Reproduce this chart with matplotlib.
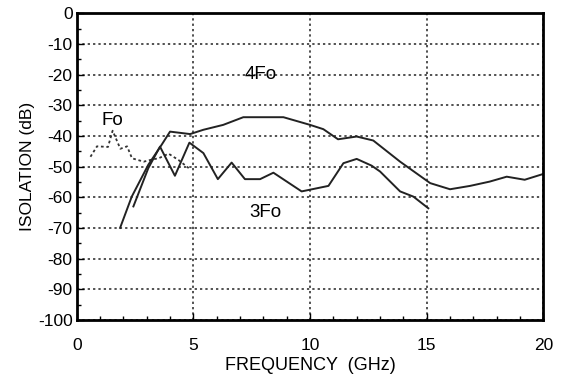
import matplotlib.pyplot as plt
from matplotlib.ticker import MultipleLocator

plt.rcParams['font.family'] = ['Liberation Sans', 'DejaVu Sans']
plt.rcParams['axes.unicode_minus'] = False

# Fo (dotted)
fo_x = [0.59, 0.87, 1.34, 1.54, 1.87, 2.16, 2.37, 2.87, 3.23, 3.51, 3.94, 4.37, 4.8]
fo_y = [-46.8, -43.4, -43.6, -38.3, -44.2, -43.4, -47.3, -48.4, -47.7, -47.3, -45.8, -47.9, -50.5]

# 4Fo (upper solid)
f4_x = [1.86, 2.36, 3.07, 3.64, 4.0, 4.86, 5.43, 6.28, 7.14, 8.86, 10.0, 10.57, 11.2, 12.0,
        12.71, 13.86, 15.15, 16.0, 16.86, 17.7, 18.43, 19.2, 20.0]
f4_y = [-70, -59.8, -49.4, -42.9, -38.6, -39.4, -38.0, -36.4, -33.9, -33.9, -36.4, -37.8, -41.1, -40.2,
        -41.5, -48.4, -55.4, -57.4, -56.3, -54.9, -53.3, -54.3, -52.4]

# 3Fo (lower solid)
f3_x = [2.43, 3.07, 3.57, 4.21, 4.83, 5.43, 6.05, 6.64, 7.21, 7.86, 8.43, 9.64, 10.79, 11.43,
        12.0, 12.64, 13.0, 13.86, 14.43, 15.07]
f3_y = [-63, -50.5, -43.5, -53, -42.2, -45.6, -54.1, -48.7, -54.1, -54.1, -52, -58.1, -56.3, -48.9,
        -47.5, -49.7, -51.6, -58.1, -59.8, -63.6]

fig = plt.figure(figsize=(5.66, 3.79), dpi=100)
ax = fig.add_axes([0.1355, 0.156, 0.8245, 0.809])

ax.plot(fo_x, fo_y, color='#333333', linestyle=(0, (1.5, 1.5)), linewidth=1.3)
ax.plot(f4_x, f4_y, color='#222222', linewidth=1.4)
ax.plot(f3_x, f3_y, color='#222222', linewidth=1.4)

ax.text(1.55, -35, 'Fo', fontsize=13.5, ha='center', va='center')
ax.text(7.9, -20, '4Fo', fontsize=13.5, ha='center', va='center')
ax.text(8.1, -65, '3Fo', fontsize=13.5, ha='center', va='center')

ax.set_xlim(0, 20)
ax.set_ylim(-100, 0)
ax.xaxis.set_major_locator(MultipleLocator(5))
ax.xaxis.set_minor_locator(MultipleLocator(1))
ax.yaxis.set_major_locator(MultipleLocator(10))
ax.yaxis.set_minor_locator(MultipleLocator(5))
ax.tick_params(which='both', direction='in', top=False, right=False, labelsize=12.5)
ax.tick_params(which='major', length=5, width=1)
ax.tick_params(which='minor', length=3, width=1)
ax.tick_params(axis='x', pad=13)
ax.tick_params(axis='y', pad=3)
ax.grid(True, which='major', color='#222222', linestyle=(0, (1.5, 2)), linewidth=1.1)
for s in ax.spines.values():
    s.set_linewidth(2)

ax.set_xlabel('FREQUENCY  (GHz)', fontsize=13, labelpad=3)
ax.set_ylabel('ISOLATION (dB)', fontsize=12.5, labelpad=2)

fig.savefig('out.png', dpi=100)
